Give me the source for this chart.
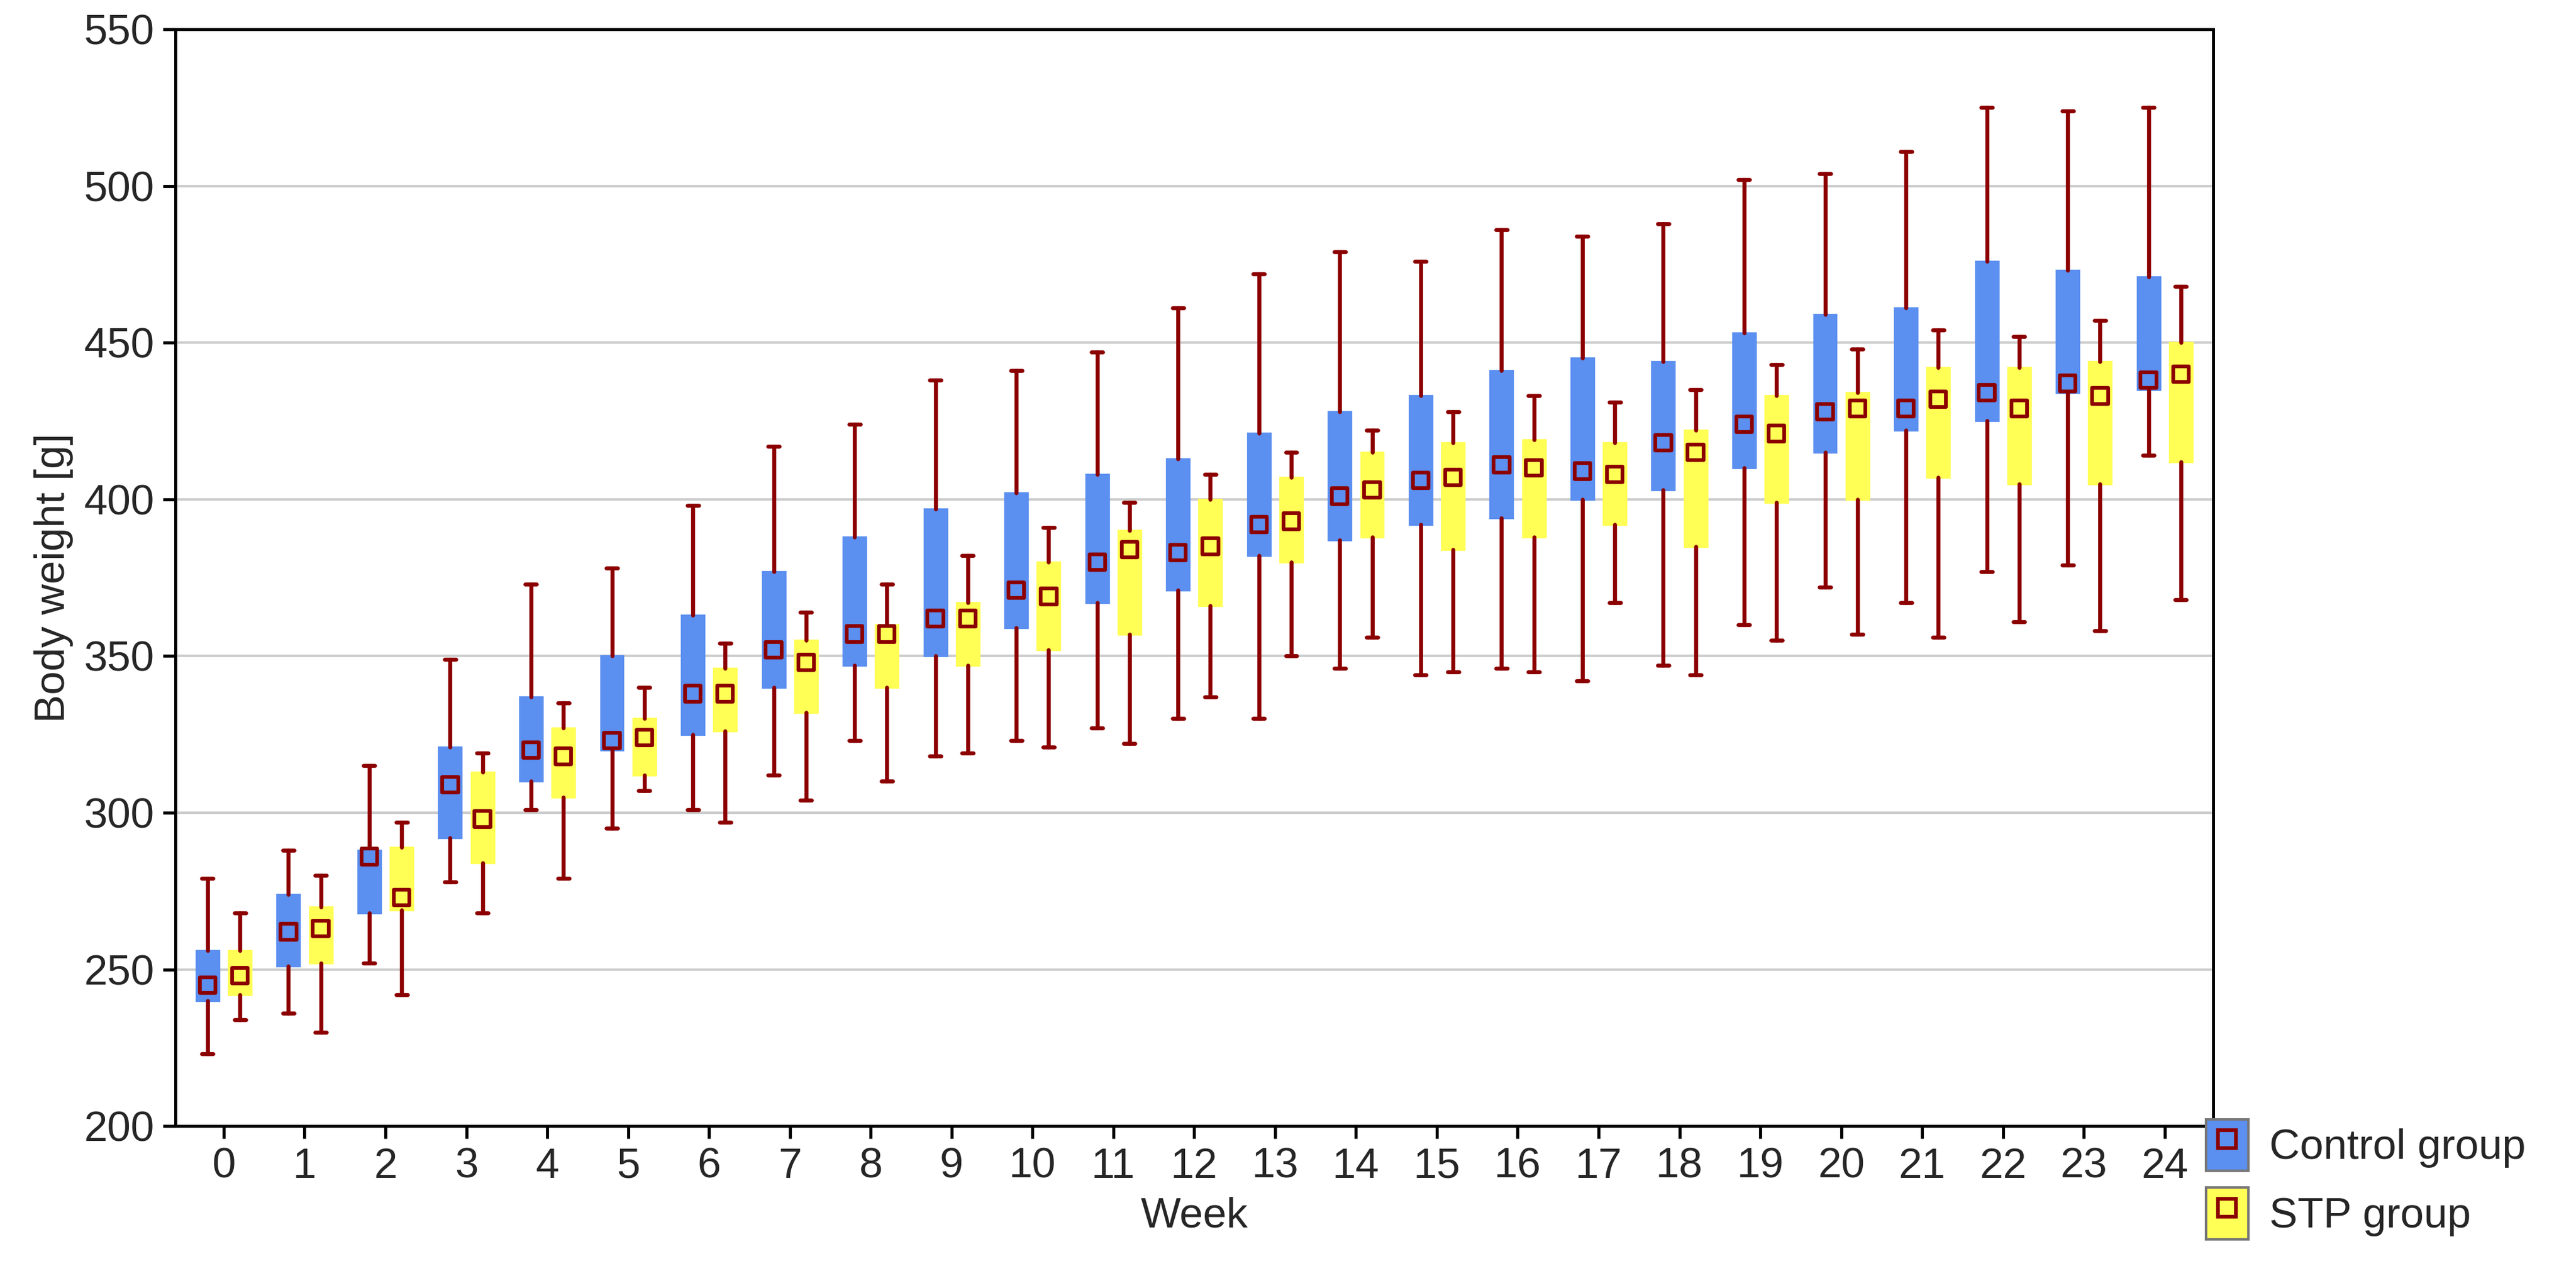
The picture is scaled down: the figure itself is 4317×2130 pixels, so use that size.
import numpy as np, pandas as pd, seaborn as sns, matplotlib
matplotlib.use("Agg")
import matplotlib.pyplot as plt
from matplotlib.patches import Patch
from matplotlib.lines import Line2D

weeks = list(range(25))
ctrl_max = [279,288,315,349,373,378,398,417,424,438,441,447,461,472,479,476,486,484,488,502,504,511,525,524,525]
ctrl_q3  = [256,274,288,321,337,350,363,377,388,397,402,408,413,421,428,433,441,445,444,453,459,461,476,473,471]
ctrl_med = [245,262,286,309,320,323,338,352,357,362,371,380,383,392,401,406,411,409,418,424,428,429,434,437,438]
ctrl_q1  = [240,251,268,292,310,320,325,340,347,350,359,367,371,382,387,392,394,400,403,410,415,422,425,434,435]
ctrl_min = [223,236,252,278,301,295,301,312,323,318,323,327,330,330,346,344,346,342,347,360,372,367,377,379,414]
stp_max = [268,280,297,319,335,340,354,364,373,382,391,399,408,415,422,428,433,431,435,443,448,454,452,457,468]
stp_q3  = [256,270,289,313,327,330,346,355,360,367,380,390,400,407,415,418,419,418,422,433,434,442,442,444,450]
stp_med = [248,263,273,298,318,324,338,348,357,362,369,384,385,393,403,407,410,408,415,421,429,432,429,433,440]
stp_q1  = [242,252,269,284,305,312,326,332,340,347,352,357,366,380,388,384,388,392,385,399,400,407,405,405,412]
stp_min = [234,230,242,268,279,307,297,304,310,319,321,322,337,350,356,345,345,367,344,355,357,356,361,358,368]

groups = [("Control group", "#5b8ff0", -0.2, ctrl_max, ctrl_q3, ctrl_med, ctrl_q1, ctrl_min),
          ("STP group", "#ffff55", 0.2, stp_max, stp_q3, stp_med, stp_q1, stp_min)]
red = "#8b0000"

sns.set_theme(style="white")
plt.rcParams['font.family'] = ['Liberation Sans', 'DejaVu Sans']
fig, ax = plt.subplots(figsize=(14.393, 7.1), dpi=300)
fig.subplots_adjust(left=0.068, right=0.859, bottom=0.114, top=0.977)

rows = []
for name, col, off, mx, q3, md, q1, mn in groups:
    stats = [dict(whislo=a, q1=b, med=c, q3=d, whishi=e) for a, b, c, d, e in zip(mn, q1, md, q3, mx)]
    ax.bxp(stats, positions=np.array(weeks) + off, widths=0.28, showfliers=False, patch_artist=True,
           boxprops=dict(facecolor=col, edgecolor=col, linewidth=0.8),
           whiskerprops=dict(color=red, linewidth=1.6), capprops=dict(color=red, linewidth=1.6),
           medianprops=dict(linewidth=0), manage_ticks=False, zorder=2)
    for w, m in zip(weeks, md):
        rows.append(dict(x=w + off, y=m, g=name))
df = pd.DataFrame(rows)
sns.scatterplot(data=df, x="x", y="y", hue="g", palette={"Control group": groups[0][1], "STP group": groups[1][1]},
                marker="s", s=40, edgecolor=red, linewidth=1.5, legend=False, ax=ax, zorder=4)

ax.set_xlim(-0.6, 24.6)
ax.set_ylim(200, 550)
ax.set_xticks(weeks)
ax.set_xticklabels([str(w) for w in weeks])
ax.set_yticks(range(200, 551, 50))
ax.yaxis.grid(True, color="#cccccc", linewidth=1)
ax.set_axisbelow(True)
for s in ax.spines.values():
    s.set_color("black"); s.set_linewidth(1.2)
ax.tick_params(axis="both", labelsize=17, length=5, direction="out", color="black", left=True, bottom=True)
ax.set_xlabel("Week", fontsize=17)
ax.set_ylabel("Body weight [g]", fontsize=17)

handles = [Line2D([], [], marker="s", markersize=7, markerfacecolor=c, markeredgecolor=red, markeredgewidth=1.5,
                  linestyle="None") for c in (groups[0][1], groups[1][1])]
box_h = [Patch(facecolor=c, edgecolor="#777777") for c in (groups[0][1], groups[1][1])]
fig.legend(handles=[(b, h) for b, h in zip(box_h, handles)], labels=["Control group", "STP group"],
           loc="lower right", bbox_to_anchor=(0.995, -0.005), frameon=False, fontsize=17,
           handlelength=1.0, handleheight=1.5, labelspacing=0.4, handletextpad=0.5)
fig.savefig("out.png", dpi=300)
